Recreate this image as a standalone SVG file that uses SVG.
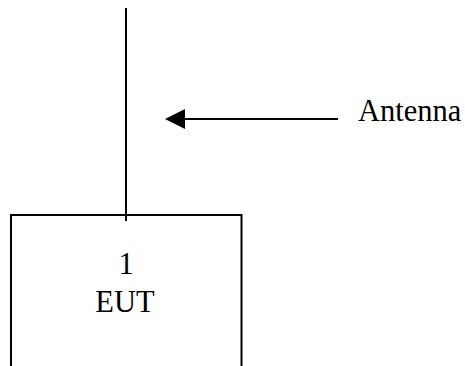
<svg xmlns="http://www.w3.org/2000/svg" width="465" height="366" viewBox="0 0 465 366">
<style>
.ln{stroke:#000;stroke-width:2;fill:none}
.t{font-family:"Liberation Serif",serif;font-size:30.5px;fill:#000}
</style>
<rect width="465" height="366" fill="#fff"/>
<g id="antenna">
<line class="ln" x1="126" y1="8" x2="126" y2="221"/>
</g>
<g id="eut">
<path class="ln" d="M11,366 V215 H241.5 V366"/>
<text class="t" x="126" y="274" text-anchor="middle">1</text>
<text class="t" x="125" y="312" text-anchor="middle">EUT</text>
</g>
<g id="label">
<text class="t" x="358" y="121">Antenna</text>
</g>
<g id="connectors">
<line class="ln" x1="338" y1="119" x2="183" y2="119"/>
<polygon points="165,119 185,109 185,129" fill="#000"/>
</g>
</svg>
